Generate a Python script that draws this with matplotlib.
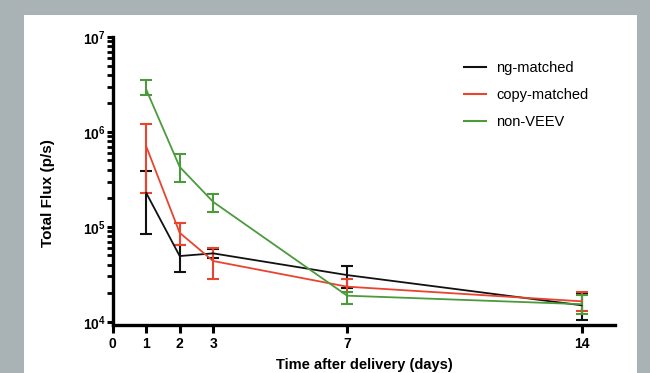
import matplotlib
matplotlib.use("Agg")
import matplotlib.pyplot as plt
from matplotlib.patches import Rectangle
from matplotlib.lines import Line2D
from matplotlib.ticker import FixedLocator, FuncFormatter, LogLocator, NullFormatter
import numpy as np

plt.rcParams['font.family'] = ['Liberation Sans', 'DejaVu Sans']
plt.rcParams['mathtext.fontset'] = 'custom'
plt.rcParams['mathtext.rm'] = 'Liberation Sans:bold'
plt.rcParams['mathtext.bf'] = 'Liberation Sans:bold'
plt.rcParams['mathtext.it'] = 'Liberation Sans:bold'

days = [1, 2, 3, 7, 14]
series_names = ["ng-matched", "copy-matched", "non-VEEV"]
colors = ["#111111", "#e8442e", "#4b9b3c"]

ng_mean = [2.28e5, 4.92e4, 5.25e4, 3.10e4, 1.49e4]
ng_low = [8.5e4, 3.36e4, 4.64e4, 2.28e4, 1.04e4]
ng_high = [3.85e5, 6.4e4, 5.82e4, 3.88e4, 1.99e4]

copy_mean = [7.06e5, 8.65e4, 4.36e4, 2.34e4, 1.64e4]
copy_low = [2.25e5, 6.5e4, 2.81e4, 2.07e4, 1.30e4]
copy_high = [1.2e6, 1.09e5, 5.93e4, 2.79e4, 2.05e4]

nonv_mean = [2.8e6, 4.28e5, 1.83e5, 1.88e4, 1.53e4]
nonv_low = [2.45e6, 2.93e5, 1.44e5, 1.53e4, 1.22e4]
nonv_high = [3.5e6, 5.78e5, 2.21e5, 2.07e4, 1.90e4]

xticks = [0, 1, 2, 3, 7, 14]

W, H = 650, 373
fig = plt.figure(figsize=(W / 100, H / 100), dpi=100)
fig.patch.set_facecolor("#a9b2b5")
fig.patches.append(Rectangle((24 / W, 0), (637 - 24) / W, (H - 15) / H,
                             transform=fig.transFigure, facecolor="white",
                             edgecolor="none", zorder=-5))

ax = fig.add_axes([112.7 / W, 1 - 325 / H, (615 - 112.7) / W, (325 - 37) / H])
ax.set_facecolor("none")
ax.set_zorder(2)

data = [(ng_mean, ng_low, ng_high), (copy_mean, copy_low, copy_high),
        (nonv_mean, nonv_low, nonv_high)]
for name, col, (m, lo, hi) in zip(series_names, colors, data):
    m = np.array(m); lo = np.array(lo); hi = np.array(hi)
    ax.errorbar(days, m, yerr=[m - lo, hi - m], color=col, lw=1.3,
                elinewidth=1.5, capsize=4, capthick=1.5, label=name,
                clip_on=False)

ymin = 10 ** (4 - 3.3 / 95)
ax.set_yscale("log")
ax.set_ylim(ymin, 1e7)
ax.set_xlim(0, 15)

for s in ["top", "right"]:
    ax.spines[s].set_visible(False)
ax.spines["left"].set_linewidth(2.4)
ax.spines["bottom"].set_linewidth(2.4)

ax.xaxis.set_major_locator(FixedLocator(xticks))
ax.set_xticklabels([str(t) for t in xticks], fontsize=10, fontweight="bold")
ax.tick_params(axis="x", length=6, width=2.2, pad=3)

ax.yaxis.set_major_locator(FixedLocator([1e4, 1e5, 1e6, 1e7]))
ax.yaxis.set_major_formatter(FuncFormatter(
    lambda v, p: r"$\mathbf{10^{%d}}$" % int(round(np.log10(v)))))
ax.yaxis.set_minor_locator(LogLocator(base=10, subs=np.arange(2, 10), numticks=20))
ax.yaxis.set_minor_formatter(NullFormatter())
ax.tick_params(axis="y", which="major", length=4, width=2.2, pad=1, labelsize=10)
ax.tick_params(axis="y", which="minor", length=4, width=2.0)

fig.text(364 / W, 4 / H, "Time after delivery (days)", ha="center", va="baseline",
         fontsize=10.5, fontweight="bold")
fig.text(48 / W, 1 - 193 / H, "Total Flux (p/s)", ha="center", va="center",
         rotation=90, fontsize=11, fontweight="bold")

lh = [Line2D([], [], color=c, lw=1.5) for c in colors]
leg = fig.legend(lh, series_names, loc="upper left",
                 bbox_to_anchor=(464 / W, 1 - 61 / H), frameon=False,
                 fontsize=10.5, handlelength=1.5, handletextpad=0.7,
                 labelspacing=0.9, borderpad=0, borderaxespad=0)

fig.savefig("out.png", dpi=100, facecolor=fig.get_facecolor())
